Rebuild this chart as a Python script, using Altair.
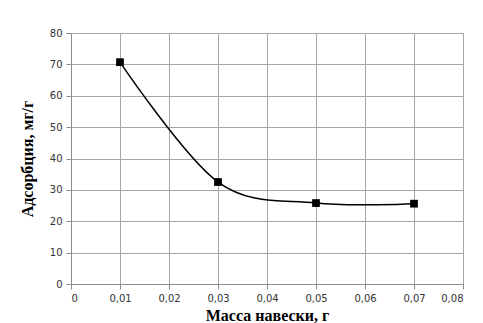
import altair as alt
import pandas as pd

mass = [0.01, 0.03, 0.05, 0.07]
adsorption = [70.7, 32.5, 25.8, 25.6]

df = pd.DataFrame({"mass": mass, "ads": adsorption})

xlabel = "datum.value == 0 ? '0' : replace(format(datum.value, '.2f'), '.', ',')"

x = alt.X("mass:Q", title="Масса навески, г",
          scale=alt.Scale(domain=[0, 0.08], nice=False),
          axis=alt.Axis(values=[0, 0.01, 0.02, 0.03, 0.04, 0.05, 0.06, 0.07, 0.08],
                        labelExpr=xlabel, titlePadding=4))
y = alt.Y("ads:Q", title="Адсорбция, мг/г",
          scale=alt.Scale(domain=[0, 80], nice=False),
          axis=alt.Axis(values=[0, 10, 20, 30, 40, 50, 60, 70, 80], titlePadding=14))

line = alt.Chart(df).mark_line(interpolate="cardinal", color="black", strokeWidth=1.5).encode(x=x, y=y)
pts = alt.Chart(df).mark_point(shape="square", filled=True, color="black", size=60, opacity=1).encode(x=x, y=y)

chart = (line + pts).properties(
    width=392, height=251,
    autosize=alt.AutoSizeParams(type="none"),
    padding={"left": 63, "top": 25, "right": 12, "bottom": 39},
    background="white",
).configure_view(stroke="#a0a0a0").configure_axis(
    gridColor="#a6a6a6", gridWidth=1,
    domainColor="#8c8c8c", tickColor="#8c8c8c", tickSize=5,
    labelFont="DejaVu Sans", labelFontSize=10, labelColor="#333333",
    titleFont="Liberation Serif", titleFontSize=16, titleFontWeight="bold", titleColor="black",
    labelPadding=4,
)

chart.save("out.html", embed_options={"renderer": "svg", "actions": False})
